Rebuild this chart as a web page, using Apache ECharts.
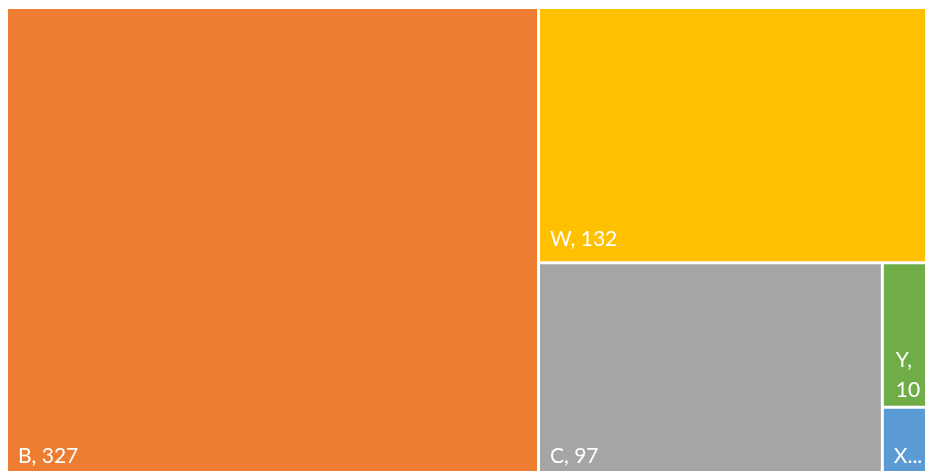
<!DOCTYPE html>
<html>
<head>
<meta charset="utf-8">
<script src="https://cdn.jsdelivr.net/npm/echarts@6/dist/echarts.min.js"></script>
<style>
  html, body { margin: 0; padding: 0; background: #fff; }
  #chart { width: 925px; height: 471px; }
</style>
</head>
<body>
<div id="chart"></div>
<script>
var chartDom = document.getElementById('chart');
var myChart = echarts.init(chartDom);

// data
var names = ['B', 'W', 'C', 'Y', 'X'];
var values = [327, 132, 97, 10, 5];
var palette = ['#ED7D31', '#FFC000', '#A5A5A5', '#70AD47', '#5B9BD5'];

var data = names.map(function (n, i) {
  var item = {
    name: n,
    value: values[i],
    itemStyle: { color: palette[i] }
  };
  if (n === 'Y') {
    // narrow box: wraps onto two lines, sits a bit lower
    item.label = { overflow: 'break', distance: 1, padding: [0, 0, 0, 11] };
  }
  if (n === 'X') {
    // too small, label gets cut like in the original
    item.label = { formatter: '{b}...' };
  }
  return item;
});

var option = {
  animation: false,
  series: [
    {
      type: 'treemap',
      left: 8,
      top: 9,
      width: 926,
      height: 469,
      squareRatio: 1,
      roam: false,
      nodeClick: false,
      breadcrumb: { show: false },
      label: {
        show: true,
        position: 'insideBottomLeft',
        distance: 7,
        padding: [0, 0, 0, 3],
        formatter: '{b}, {c}',
        color: '#fff',
        fontFamily: 'Lato',
        fontSize: 21,
        lineHeight: 30
      },
      itemStyle: {
        borderWidth: 0,
        gapWidth: 3
      },
      levels: [
        { itemStyle: { borderWidth: 0, gapWidth: 3 } }
      ],
      data: data
    }
  ]
};

myChart.setOption(option);
</script>
</body>
</html>
